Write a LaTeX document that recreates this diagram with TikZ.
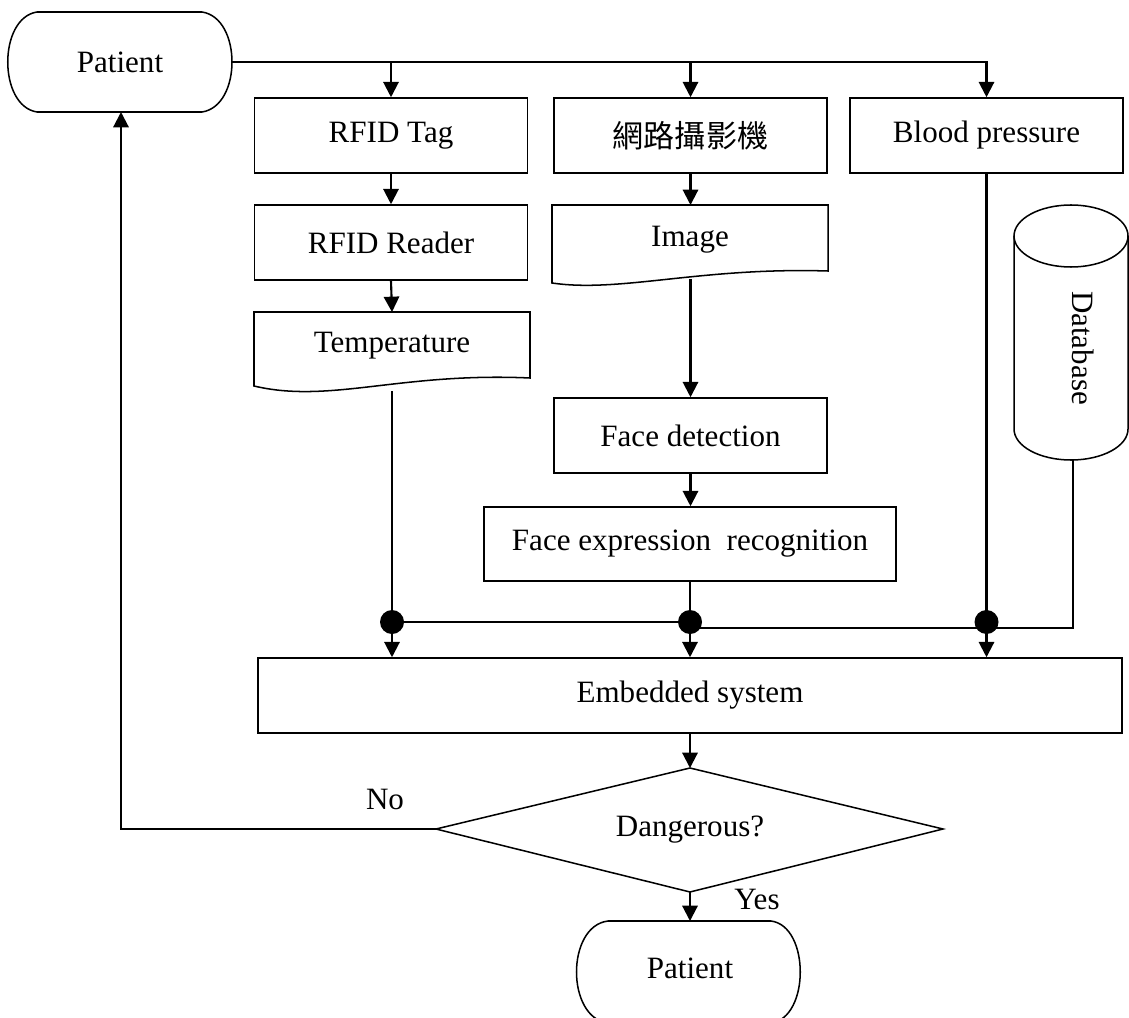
\documentclass[tikz,border=0pt]{standalone}
\usepackage{fontspec}
\setmainfont{Liberation Serif}
\newfontfamily\cjk{Noto Sans CJK TC}
\usetikzlibrary{arrows.meta}
\begin{document}
\begin{tikzpicture}[x=0.03cm,y=-0.03cm,
  every node/.style={font=\fontsize{26.5}{30}\selectfont, inner sep=0pt},
  shapeline/.style={draw, line width=1.3pt},
  boxnode/.style={shapeline, minimum width=8.19cm, minimum height=2.25cm},
  conn/.style={line width=1.8pt},
  arr/.style={conn, -{Triangle[length=0.46cm,width=0.46cm]}},
  dot/.style={circle, fill=black, minimum size=0.72cm}
]
\useasboundingbox (0,0) rectangle (1129,1018);
\clip (0,0) rectangle (1129,1018);

% top patient terminal
\draw[shapeline] (37,12) -- (202,12) .. controls (242,18) and (242,106) .. (202,112)
  -- (37,112) .. controls (-2,106) and (-2,18) .. (37,12) -- cycle;
\node (pat) at (120,62) {Patient};
\coordinate (patE) at (232,62);
\coordinate (patS) at (121,112);

% rectangles
\node[boxnode] (tag) at (391,135.5) {RFID Tag};
\node[boxnode] (reader) at (391,242.5) {RFID Reader};
\node[boxnode] (cam) at (690.5,135.5) {\cjk 網路攝影機};
\node[boxnode] (bp) at (986.5,135.5) {Blood pressure};
\node[boxnode] (face) at (690.5,435.5) {Face detection};
\node[shapeline, minimum width=12.36cm, minimum height=2.22cm] (expr) at (690,544) {Face expression\ \ recognition};
\node[shapeline, minimum width=25.92cm, minimum height=2.25cm] (emb) at (690,695.5) {Embedded system};

% document shapes
\draw[shapeline] (254,312) -- (530,312) -- (530,378) .. controls (400,372) and (330,404) .. (254,386) -- cycle;
\node (temp) at (392,346) {Temperature};
\coordinate (tempN) at (392,312);
\coordinate (tempS) at (392,391);

\draw[shapeline] (552,205) -- (828,205) -- (828,271) .. controls (700,267) and (620,293) .. (552,283) -- cycle;
\node (img) at (690,240) {Image};
\coordinate (imgN) at (690.5,205);
\coordinate (imgS) at (690.5,279);

% database cylinder
\draw[shapeline] (1071,236) ellipse [x radius=1.71cm, y radius=0.93cm];
\draw[shapeline] (1014,236) -- (1014,429) arc[start angle=180, end angle=360, x radius=1.71cm, y radius=0.93cm] -- (1128,236);
\node[rotate=-90] (db) at (1083,348) {Database};
\coordinate (dbS) at (1073,460);

% diamond
\coordinate (dT) at (690,768);
\coordinate (dL) at (436,829);
\coordinate (dR) at (943,829);
\coordinate (dB) at (690,892);
\draw[shapeline] (dT) -- (dR) -- (dB) -- (dL) -- cycle;
\node (dang) at (690,830) {Dangerous?};
\node (no) at (385,799) {No};
\node (yes) at (757,899) {Yes};

% bottom patient terminal
\draw[shapeline] (608,921) -- (771,921) .. controls (810,926) and (810,1018) .. (771,1023)
  -- (608,1023) .. controls (566,1018) and (566,926) .. (608,921) -- cycle;
\node (pat2) at (690,968) {Patient};
\coordinate (pat2N) at (690,921);

% junction coordinates
\coordinate (j1c) at (392,622);
\coordinate (j2c) at (690,622);
\coordinate (j3c) at (986.5,622);
\coordinate (j2b) at (690,628);

% connectors
\draw[arr] (patE) -| (bp.north);
\draw[arr] (tag.north |- patE) -- (tag.north);
\draw[arr] (cam.north |- patE) -- (cam.north);
\draw[arr] (tag.south) -- (reader.north);
\draw[arr] (reader.south) -- (tempN);
\draw[arr] (cam.south) -- (imgN);
\draw[arr] (imgS) -- (face.north);
\draw[arr] (face.south) -- (expr.north -| face.south);
\draw[conn] (tempS) -- (j1c);
\draw[arr] (j1c) -- (j1c |- emb.north);
\draw[conn] (expr.south) -- (j2c);
\draw[arr] (j2c) -- (j2c |- emb.north);
\draw[conn] (bp.south) -- (j3c);
\draw[arr] (j3c) -- (j3c |- emb.north);
\draw[conn] (j1c) -- (j2c);
\draw[conn] (dbS) |- (j2b);
\draw[arr] (emb.south) -- (dT);
\draw[arr] (dL) -| (patS);
\draw[arr] (dB) -- (pat2N);

% junction dots
\node[dot] (j1) at (j1c) {};
\node[dot] (j2) at (j2c) {};
\node[dot] (j3) at (j3c) {};
\end{tikzpicture}
\end{document}
